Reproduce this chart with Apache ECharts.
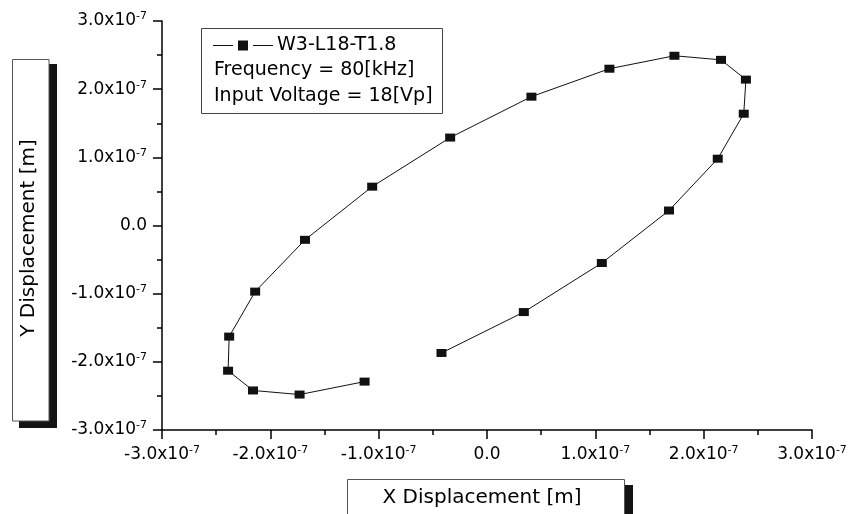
<!DOCTYPE html>
<html>
<head>
<meta charset="utf-8">
<title>W3-L18-T1.8 displacement orbit</title>
<script src="https://cdn.jsdelivr.net/npm/echarts@6/dist/echarts.min.js"></script>
<style>
  html, body { margin: 0; padding: 0; background: #fff; }
  #chart { width: 857px; height: 514px; }
</style>
</head>
<body>
<div id="chart"></div>
<script>
// Measured orbit of the tip, in metres, in sampling order
const xDisplacement = [
  -1.13e-7, -1.73e-7, -2.16e-7, -2.39e-7, -2.38e-7, -2.14e-7, -1.68e-7,
  -1.06e-7, -0.34e-7, 0.41e-7, 1.13e-7, 1.73e-7, 2.16e-7, 2.39e-7,
  2.37e-7, 2.13e-7, 1.68e-7, 1.06e-7, 0.34e-7, -0.42e-7
];
const yDisplacement = [
  -2.29e-7, -2.48e-7, -2.42e-7, -2.13e-7, -1.63e-7, -0.97e-7, -0.21e-7,
  0.57e-7, 1.29e-7, 1.89e-7, 2.30e-7, 2.49e-7, 2.43e-7, 2.14e-7,
  1.64e-7, 0.98e-7, 0.22e-7, -0.55e-7, -1.27e-7, -1.87e-7
];

const seriesName = 'W3-L18-T1.8';
const infoLines = ['Frequency = 80[kHz]', 'Input Voltage = 18[Vp]'];
const xAxisTitle = 'X Displacement [m]';
const yAxisTitle = 'Y Displacement [m]';

// Axis range and tick step (metres)
const axisMin = -3e-7;
const axisMax = 3e-7;
const axisStep = 1e-7;

const FONT = 'DejaVu Sans';

// Legend key: short line, square marker, short line (60 x 10 box)
const legendKey = 'path://M0,4.5H20V5.5H0Z M25,0H35V10H25Z M40,4.5H60V5.5H40Z';

// "2.0x10^-7" style tick text, exponent drawn as a raised rich-text run
function sciLabel(v) {
  const m = Math.round(v / 1e-8) / 10;
  if (Math.abs(m) < 1e-9) return '0.0';
  return m.toFixed(1) + 'x10{s|-7}';
}

function valueAxis(extra) {
  return Object.assign({
    type: 'value',
    min: axisMin,
    max: axisMax,
    interval: axisStep,
    splitLine: { show: false },
    axisLine: { show: true, onZero: false, lineStyle: { color: '#000', width: 1.5 } },
    axisTick: { show: true, length: 9, lineStyle: { color: '#000', width: 1.5 } },
    minorTick: { show: true, splitNumber: 2, length: 5, lineStyle: { color: '#000', width: 1.5 } },
    minorSplitLine: { show: false },
    axisLabel: {
      formatter: sciLabel,
      color: '#000',
      fontFamily: FONT,
      fontSize: 17,
      lineHeight: 20,
      margin: 15,
      rich: {
        s: { fontFamily: FONT, fontSize: 11, lineHeight: 11, verticalAlign: 'top', color: '#000' }
      }
    }
  }, extra);
}

const chart = echarts.init(document.getElementById('chart'), null, { renderer: 'canvas' });

chart.setOption({
  animation: false,
  backgroundColor: '#fff',
  grid: {
    left: 162, right: 45, top: 21, bottom: 84,
    containLabel: false, outerBoundsMode: 'none'
  },
  xAxis: valueAxis({}),
  yAxis: valueAxis({}),
  legend: {
    show: true,
    left: 213,
    top: 36,
    padding: 0,
    z: 10,
    icon: legendKey,
    itemWidth: 60,
    itemHeight: 10,
    itemGap: 0,
    textStyle: { fontFamily: FONT, fontSize: 19, color: '#000', padding: [0, 0, 0, -1] },
    data: [seriesName]
  },
  graphic: [
    // legend frame
    {
      type: 'rect', z: 5,
      shape: { x: 201.5, y: 28.5, width: 241, height: 85 },
      style: { fill: '#fff', stroke: '#444', lineWidth: 1 }
    },
    {
      type: 'text', z: 11, left: 214, top: 61,
      style: { text: infoLines[0], fontFamily: FONT, fontSize: 19, fill: '#000' }
    },
    {
      type: 'text', z: 11, left: 214, top: 87,
      style: { text: infoLines[1], fontFamily: FONT, fontSize: 19, fill: '#000' }
    },
    // y-axis title panel with drop shadow
    {
      type: 'rect', z: 1,
      shape: { x: 19, y: 64, width: 38, height: 364 },
      style: { fill: '#141414' }
    },
    {
      type: 'rect', z: 2,
      shape: { x: 12.5, y: 59.5, width: 36.5, height: 361.5 },
      style: { fill: '#fff', stroke: '#555', lineWidth: 1 }
    },
    {
      type: 'text', z: 3, x: 29, y: 238, rotation: Math.PI / 2,
      style: {
        text: yAxisTitle, fontFamily: FONT, fontSize: 20, fill: '#000',
        align: 'center', verticalAlign: 'middle'
      }
    },
    // x-axis title panel with drop shadow
    {
      type: 'rect', z: 1,
      shape: { x: 354, y: 485, width: 279, height: 40 },
      style: { fill: '#141414' }
    },
    {
      type: 'rect', z: 2,
      shape: { x: 347.5, y: 479.5, width: 277, height: 45 },
      style: { fill: '#fff', stroke: '#555', lineWidth: 1 }
    },
    {
      type: 'text', z: 3, x: 482, y: 498,
      style: {
        text: xAxisTitle, fontFamily: FONT, fontSize: 20, fill: '#000',
        align: 'center', verticalAlign: 'middle'
      }
    }
  ],
  series: [{
    name: seriesName,
    type: 'line',
    data: xDisplacement.map((x, i) => [x, yDisplacement[i]]),
    symbol: 'rect',
    symbolSize: [10, 8],
    showSymbol: true,
    itemStyle: { color: '#111' },
    lineStyle: { color: '#111', width: 1 },
    emphasis: { disabled: true }
  }]
});
</script>
</body>
</html>
